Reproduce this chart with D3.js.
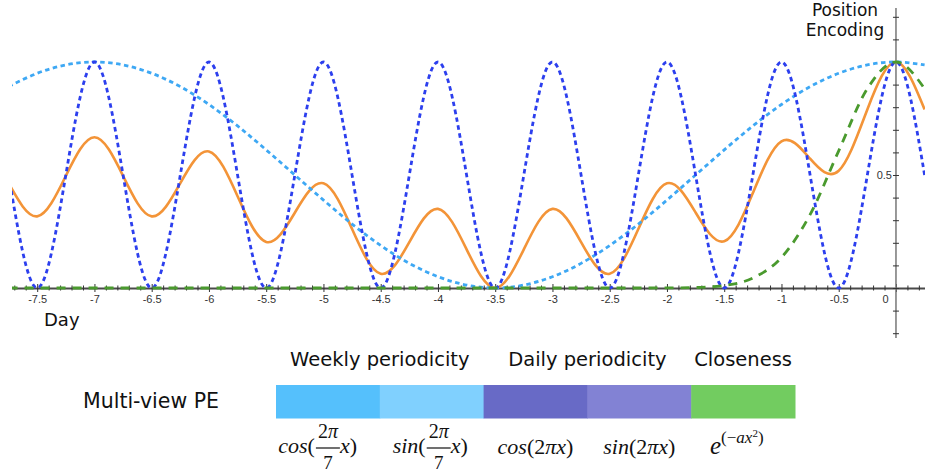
<!DOCTYPE html>
<html><head><meta charset="utf-8">
<script src="https://cdn.jsdelivr.net/npm/d3@7"></script>
<style>body{margin:0;background:#fff}svg{display:block}</style>
</head><body>
<svg id="c" width="925" height="476"></svg>
<script>
// ---- data ----
const days = [-7.75,-7.5,-7.25,-7,-6.75,-6.5,-6.25,-6,-5.75,-5.5,-5.25,-5,-4.75,-4.5,-4.25,-4,-3.75,-3.5,-3.25,-3,-2.75,-2.5,-2.25,-2,-1.75,-1.5,-1.25,-1,-0.75,-0.5,-0.25,0,0.25];
const weeklyPE = [0.891,0.950,0.987,1.000,0.987,0.950,0.891,0.812,0.717,0.611,0.500,0.389,0.283,0.188,0.109,0.050,0.013,0.000,0.013,0.050,0.109,0.188,0.283,0.389,0.500,0.611,0.717,0.812,0.891,0.950,0.987,1.000,0.987];
const dailyPE = [0.5,0,0.5,1,0.5,0,0.5,1,0.5,0,0.5,1,0.5,0,0.5,1,0.5,0,0.5,1,0.5,0,0.5,1,0.5,0,0.5,1,0.5,0,0.5,1,0.5];
const closenessPE = [0,0,0,0,0,0,0,0,0,0,0,0,0,0,0,0,0,0,0,0,0,0,0,0.0003,0.002,0.011,0.044,0.135,0.325,0.607,0.882,1.000,0.882];
const combinedPE = [0.464,0.317,0.496,0.667,0.496,0.317,0.464,0.604,0.406,0.204,0.333,0.463,0.261,0.063,0.203,0.350,0.171,0.000,0.171,0.350,0.203,0.063,0.261,0.463,0.334,0.207,0.420,0.649,0.572,0.519,0.790,1.000,0.790];
const xTickLabels = ["-7.5","-7","-6.5","-6","-5.5","-5","-4.5","-4","-3.5","-3","-2.5","-2","-1.5","-1","-0.5","0"];
const yTickLabels = ["0.5"];
const groupLabels = ["Weekly periodicity","Daily periodicity","Closeness"];
const segmentNames = ["weekCos","weekSin","dayCos","daySin","close"];
const segmentColors = ["#55c0fc","#80d0fe","#686ac6","#8282d4","#72cc60"];

// ---- layout ----
const svg = d3.select("#c");
const x = d3.scaleLinear().domain([-7.72, 0.2535]).range([12, 925]);
const y = d3.scaleLinear().domain([0, 1]).range([288, 62]);

// x axis
const xTicks = d3.range(-77, 3).map(i => i / 10);
const labelOf = v => { const s = String(Math.round(v*10)/10); return xTickLabels.includes(s) ? s : ""; };
const gx = svg.append("g").attr("transform", `translate(0,${y(0)})`)
  .call(d3.axisBottom(x).tickValues(xTicks).tickSizeInner(3).tickSizeOuter(0).tickFormat(labelOf));
gx.select(".domain").attr("stroke", "#4a4a4a").attr("stroke-width", 2);
gx.selectAll(".tick line").attr("stroke", "#333").attr("stroke-width", 1)
  .attr("y1", d => labelOf(d) ? -4 : -2.5).attr("y2", d => labelOf(d) ? 4 : 2.5);
gx.selectAll(".tick text").attr("y", 7).attr("font-family", "Liberation Sans, Arial, sans-serif")
  .attr("font-size", 11).attr("fill", "#333").attr("dx", d => Math.abs(d) < 1e-9 ? -11 : 0);

// y axis
const yTicks = d3.range(-2, 13).map(i => i / 10);
const gy = svg.append("g").attr("transform", `translate(${x(0)},0)`)
  .call(d3.axisRight(y).tickValues(yTicks).tickSize(3).tickFormat(""));
gy.select(".domain").remove();
gy.insert("line", ":first-child").attr("y1", y(y.invert(8))).attr("y2", y(y.invert(338)))
  .attr("stroke", "#777").attr("stroke-width", 1.5);
gy.selectAll(".tick line").attr("x1", -3).attr("x2", 3).attr("stroke", "#333");
svg.append("text").attr("x", x(0) - 4).attr("y", y(0.5) + 4).attr("text-anchor", "end")
  .attr("font-family", "Liberation Sans, Arial, sans-serif").attr("font-size", 11).attr("fill", "#333")
  .text(yTickLabels[0]);

// curves
svg.append("clipPath").attr("id", "clip").append("rect").attr("x", 12).attr("y", 0).attr("width", 913).attr("height", 340);
const plot = svg.append("g").attr("clip-path", "url(#clip)");
const lineOf = (vals, curve) => d3.line().x((d, i) => x(days[i])).y(d => y(d)).curve(curve)(vals);

plot.append("path").attr("d", lineOf(combinedPE, d3.curveNatural))
  .attr("fill", "none").attr("stroke", "#f39438").attr("stroke-width", 2.6);
plot.append("path").attr("d", lineOf(weeklyPE, d3.curveNatural))
  .attr("fill", "none").attr("stroke", "#3ea8f4").attr("stroke-width", 2.8).attr("stroke-dasharray", "4.5,3.5");
plot.append("path").attr("d", lineOf(dailyPE, d3.curveNatural))
  .attr("fill", "none").attr("stroke", "#2c3fee").attr("stroke-width", 2.8).attr("stroke-dasharray", "4.5,3.5");
plot.append("path").attr("d", lineOf(closenessPE, d3.curveMonotoneX))
  .attr("fill", "none").attr("stroke", "#4a9a2e").attr("stroke-width", 2.8).attr("stroke-dasharray", "9,7");

// titles
const sans = "DejaVu Sans, Verdana, sans-serif";
svg.append("text").attr("x", 845).attr("y", 16).attr("text-anchor", "middle").attr("font-family", sans)
  .attr("font-size", 17).attr("fill", "#111").text("Position");
svg.append("text").attr("x", 845).attr("y", 36).attr("text-anchor", "middle").attr("font-family", sans)
  .attr("font-size", 17).attr("fill", "#111").text("Encoding");
svg.append("text").attr("x", 44).attr("y", 326).attr("font-family", sans)
  .attr("font-size", 18).attr("fill", "#111").text("Day");

// legend bar
const band = d3.scaleBand().domain(segmentNames).range([276, 795]);
svg.append("g").selectAll("rect").data(segmentNames).join("rect")
  .attr("x", d => band(d)).attr("y", 385).attr("width", band.bandwidth() + 0.5).attr("height", 33.5)
  .attr("fill", (d, i) => segmentColors[i]);

const groupCenters = [band("weekSin"), band("daySin"), band("close") + band.bandwidth() / 2];
svg.append("g").selectAll("text").data(groupLabels).join("text")
  .attr("x", (d, i) => groupCenters[i]).attr("y", 366).attr("text-anchor", "middle")
  .attr("font-family", sans).attr("font-size", 19.5).attr("fill", "#111").text(d => d);
svg.append("text").attr("x", 83).attr("y", 408).attr("font-family", sans)
  .attr("font-size", 20.5).attr("fill", "#111").text("Multi-view PE");

// formulas
const serif = "Liberation Serif, Times New Roman, serif";
function fracFormula(fn, fc) {
  const g = svg.append("g").attr("font-family", serif).attr("fill", "#111");
  const t1 = g.append("text").attr("x", fc - 13).attr("y", 453).attr("text-anchor", "end").attr("font-size", 22);
  t1.append("tspan").attr("font-style", "italic").text(fn);
  t1.append("tspan").text("(");
  const num = g.append("text").attr("x", fc).attr("y", 438).attr("text-anchor", "middle").attr("font-size", 20);
  num.append("tspan").text("2");
  num.append("tspan").attr("font-style", "italic").text("π");
  g.append("line").attr("x1", fc - 12).attr("x2", fc + 12).attr("y1", 448).attr("y2", 448)
    .attr("stroke", "#111").attr("stroke-width", 1.2);
  g.append("text").attr("x", fc).attr("y", 469).attr("text-anchor", "middle").attr("font-size", 19).text("7");
  const t2 = g.append("text").attr("x", fc + 12).attr("y", 453).attr("font-size", 22);
  t2.append("tspan").attr("font-style", "italic").text("x");
  t2.append("tspan").text(")");
}
fracFormula("cos", band("weekCos") + band.bandwidth() / 2);
fracFormula("sin", band("weekSin") + band.bandwidth() / 2 + 7);

function inlineFormula(fn, cx) {
  const t = svg.append("text").attr("x", cx).attr("y", 454).attr("text-anchor", "middle")
    .attr("font-family", serif).attr("font-size", 22).attr("fill", "#111");
  t.append("tspan").attr("font-style", "italic").text(fn);
  t.append("tspan").text("(2");
  t.append("tspan").attr("font-style", "italic").text("πx");
  t.append("tspan").text(")");
}
inlineFormula("cos", band("dayCos") + band.bandwidth() / 2);
inlineFormula("sin", band("daySin") + band.bandwidth() / 2);

const e = svg.append("text").attr("x", 710).attr("y", 454).attr("font-family", serif).attr("fill", "#111");
e.append("tspan").attr("font-style", "italic").attr("font-size", 25).text("e");
e.append("tspan").attr("font-size", 17).attr("dy", -11).text("(−");
e.append("tspan").attr("font-size", 17).attr("font-style", "italic").text("ax");
e.append("tspan").attr("font-size", 11).attr("dy", -6).text("2");
e.append("tspan").attr("font-size", 17).attr("dy", 6).text(")");
</script>
</body></html>
